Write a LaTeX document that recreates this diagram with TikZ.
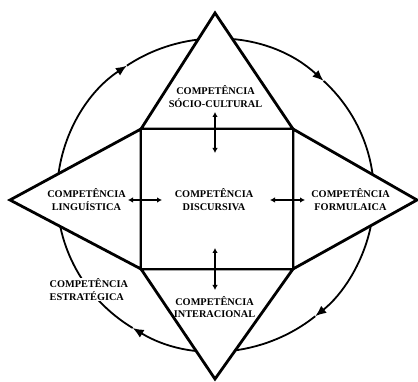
\documentclass[tikz,border=0pt]{standalone}
\usepackage{fontspec}
\setmainfont{Liberation Serif}[BoldFont={Liberation Serif Bold}]
\usetikzlibrary{arrows.meta}
\begin{document}
\begin{tikzpicture}[x=1pt,y=-1pt,
  panel/.style={draw=black, fill=white, line width=2.8pt, line join=miter},
  ring/.style={line width=1.8pt, -{Latex[length=11pt,width=9pt]}},
  link/.style={line width=1.5pt, {Latex[length=5pt,width=5.5pt]}-{Latex[length=5pt,width=5.5pt]}},
  lbl/.style={font=\bfseries\fontsize{10.3}{12.6}\selectfont, align=center, inner sep=1pt}]
\useasboundingbox (0,0) rectangle (418,382);
% circle with clockwise arrows
\coordinate (C) at (215.5,195);
\draw[ring] (C) ++(-238.5:158.5 and 156) arc[start angle=-238.5,end angle=-124,x radius=158.5,y radius=156];
\draw[ring] (C) ++(-124:158.5 and 156) arc[start angle=-124,end angle=-47,x radius=158.5,y radius=156];
\draw[ring] (C) ++(-47:158.5 and 156) arc[start angle=-47,end angle=51,x radius=158.5,y radius=156];
\draw[ring] (C) ++(51:158.5 and 156) arc[start angle=51,end angle=121.5,x radius=158.5,y radius=156];
% vertices
\coordinate (tl) at (141,129);
\coordinate (tr) at (293,129);
\coordinate (bl) at (141,269);
\coordinate (br) at (293,269);
\coordinate (top) at (215,13);
\coordinate (bot) at (215,379);
\coordinate (lft) at (10,200);
\coordinate (rgt) at (417,200);
% triangles and square
\draw[panel] (tl) -- (top) -- (tr) -- cycle;
\draw[panel] (bl) -- (bot) -- (br) -- cycle;
\draw[panel] (tl) -- (lft) -- (bl) -- cycle;
\draw[panel] (tr) -- (rgt) -- (br) -- cycle;
\draw[panel] (tl) rectangle (br);
% labels
\node[lbl] (soc) at (215.5,96.5) {COMPETÊNCIA\\SÓCIO-CULTURAL};
\node[lbl] (lin) at (86.5,199.5) {COMPETÊNCIA\\LINGUÍSTICA};
\node[lbl] (dis) at (214,199.5) {COMPETÊNCIA\\DISCURSIVA};
\node[lbl] (for) at (350.5,199.5) {COMPETÊNCIA\\FORMULAICA};
\node[lbl] (int) at (214.5,307) {COMPETÊNCIA\\INTERACIONAL};
\node[lbl, fill=white, align=left, anchor=west] (est) at (48.5,289.5) {COMPETÊNCIA\\ESTRATÉGICA};
% double arrows
\coordinate (a1) at (215,112);
\coordinate (a2) at (215,153);
\coordinate (b1) at (215,248);
\coordinate (b2) at (215,290);
\coordinate (c1) at (128,200);
\coordinate (c2) at (162,200);
\coordinate (d1) at (270,200);
\coordinate (d2) at (305,200);
\draw[link] (a1) -- (a2);
\draw[link] (b1) -- (b2);
\draw[link] (c1) -- (c2);
\draw[link] (d1) -- (d2);
\end{tikzpicture}
\end{document}
